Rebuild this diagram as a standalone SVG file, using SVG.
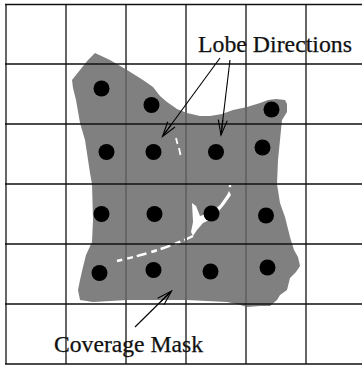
<svg xmlns="http://www.w3.org/2000/svg" width="362" height="368" viewBox="0 0 362 368">
<style>
.h{stroke:#111;stroke-width:1.5;fill:none}
.v{stroke:#666;stroke-width:2;fill:none}
.dot{fill:#000}
.lbl{fill:#111;stroke:#111;stroke-width:0.25;font-family:"Liberation Serif","DejaVu Serif",serif;font-size:23.6px}
.arr{stroke:#000;stroke-width:1.1;fill:none;marker-end:url(#ah)}
.crack{stroke:#fff;fill:none}
</style>
<defs>
<marker id="ah" markerUnits="userSpaceOnUse" markerWidth="20" markerHeight="12" viewBox="-16 -6 18 12" refX="0" refY="0" orient="auto">
<path d="M-15,-4.5 L0,0 L-15,4.5 M-15,0 L0,0" stroke="#000" stroke-width="1.1" fill="none"/>
</marker>
</defs>
<rect width="362" height="368" fill="#fff"/>
<g id="coverage-mask">
<polygon fill="#808080" points="95,53 110,60 127,70 143,80 153,87 160,96 167,102 177,109 187,113 200,116 210,116 222,114 233,110 247,107 260,103 268,100 276,99 285,100 287,104 287,112 282,120 280,140 278,160 277,184 280,203 285,217 290,237 294,250 298,257 300,266 296,272 290,278 287,290 280,295 277,300 270,306 260,306 247,307 237,304 227,302 187,300 127,300 93,302 80,300 78,290 80,280 83,267 86,255 92,242 93,220 92,184 90,173 85,140 80,123 76,100 73,88 72,80 80,70 88,60"/>
<path class="crack" stroke-width="1.8" d="M176,138 L177.5,144 M179,148 L180.5,155"/>
<polygon fill="#fff" points="192,203 196,206 200,216 210,213 220,205 227,195 229,191 231,195 224,205 213,218 203,223 197,230 193,236 191,232 193,222"/>
<circle cx="230" cy="186" r="1.3" fill="#fff"/>
<path class="crack" stroke-width="2.5" stroke-dasharray="10,4,6,5" d="M193,236 Q165,250 117,261"/>
</g>
<g id="grid">
<path class="v" d="M6,4V364M66,4V364M126,4V364M186,4V364M246,4V364M306,4V364"/>
<path class="h" d="M5,4.5H362M5,64H362M5,124H362M5,184H362M5,244H362M5,304H362M5,364H362"/>
</g>
<g id="lobe-directions">
<circle class="dot" cx="101.5" cy="88.5" r="8"/>
<circle class="dot" cx="151.5" cy="105" r="8"/>
<circle class="dot" cx="271.5" cy="109.5" r="8"/>
<circle class="dot" cx="106.5" cy="152" r="8"/>
<circle class="dot" cx="153.5" cy="152" r="8"/>
<circle class="dot" cx="216" cy="152" r="8"/>
<circle class="dot" cx="262.5" cy="147.5" r="8"/>
<circle class="dot" cx="101.5" cy="214" r="8"/>
<circle class="dot" cx="154.5" cy="214" r="8"/>
<circle class="dot" cx="211.5" cy="213.5" r="8"/>
<circle class="dot" cx="266" cy="215.5" r="8"/>
<circle class="dot" cx="99.5" cy="273" r="8"/>
<circle class="dot" cx="153.5" cy="270" r="8"/>
<circle class="dot" cx="210.5" cy="271.5" r="8"/>
<circle class="dot" cx="267.5" cy="267.5" r="8"/>
</g>
<g id="connectors">
<path class="arr" d="M220,58 L162.5,136.5"/>
<path class="arr" d="M230,60 L221,135"/>
<path class="arr" d="M135,327 L171.5,291"/>
</g>
<g id="label-lobe">
<text class="lbl" x="198" y="52" textLength="154" lengthAdjust="spacingAndGlyphs">Lobe Directions</text>
</g>
<g id="label-mask">
<text class="lbl" x="54" y="352" textLength="149" lengthAdjust="spacingAndGlyphs">Coverage Mask</text>
</g>
</svg>
